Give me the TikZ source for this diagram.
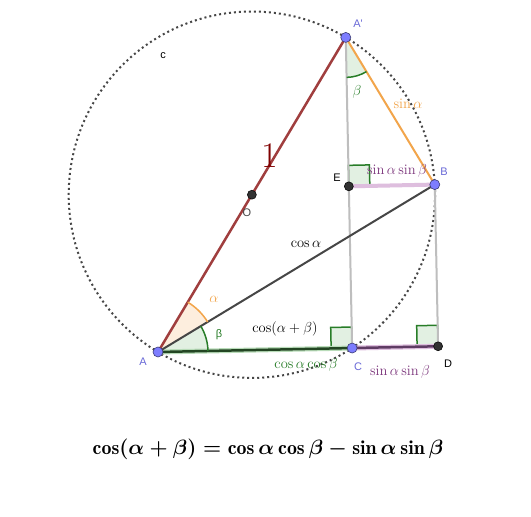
\documentclass[tikz,border=0pt]{standalone}
\usepackage{fontspec}
\usepackage{amsmath}
\newfontfamily\geo{Liberation Sans}
\usetikzlibrary{calc}
\definecolor{ptblue}{RGB}{125,125,255}
\definecolor{ptedge}{RGB}{60,60,120}
\definecolor{ptlab}{RGB}{105,105,215}
\definecolor{redline}{RGB}{160,62,62}
\definecolor{darkred}{RGB}{128,0,0}
\definecolor{orangeline}{RGB}{242,165,75}
\definecolor{orangefill}{RGB}{253,238,222}
\definecolor{grn}{RGB}{40,125,40}
\definecolor{grnfill}{RGB}{226,240,226}
\definecolor{grnhalo}{RGB}{185,220,185}
\definecolor{grndark}{RGB}{35,70,35}
\definecolor{purp}{RGB}{125,55,125}
\definecolor{purpdark}{RGB}{95,60,100}
\definecolor{lightpurp}{RGB}{222,190,222}
\definecolor{grayline}{RGB}{190,190,190}
\definecolor{darkgray}{RGB}{70,70,70}
\definecolor{ptdark}{RGB}{50,50,50}
\tikzset{
  bluept/.style={circle, fill=ptblue, draw=ptedge, line width=0.6pt, inner sep=0pt, minimum size=10pt},
  darkpt/.style={circle, fill=ptdark, draw=black, line width=0.5pt, inner sep=0pt, minimum size=9pt},
  ptlabel/.style={font=\geo\fontsize{11}{13}\selectfont, inner sep=0pt},
  mlabel/.style={font=\fontsize{14.5}{17}\selectfont, inner sep=0pt},
  rightmark/.style={fill=grnfill, draw=grn, line width=1.5pt, line join=miter},
}
\begin{document}
\begin{tikzpicture}[x=1pt,y=1pt]
\useasboundingbox (0,0) rectangle (531,517);
\fill[white] (0,0) rectangle (531,517);
\begin{scope}[shift={(158,165)}, rotate=1.17]
  \coordinate (A) at (0,0);
  \coordinate (Ap) at (58:366.4);
  \coordinate (B) at (30:323.5);
  \coordinate (C) at (194.2,0);
  \coordinate (D) at (280.2,0);
  \coordinate (E) at (194.2,161.75);
  \coordinate (O) at ($(A)!0.5!(Ap)$);
  % angle sectors
  \fill[orangefill] (A) -- (30:58) arc[start angle=30, end angle=58, radius=58] -- cycle;
  \fill[grnfill] (A) -- (0:50) arc[start angle=0, end angle=30, radius=50] -- cycle;
  \fill[grnfill] (Ap) -- ($(Ap)+(-90:40)$) arc[start angle=-90, end angle=-60, radius=40] -- cycle;
  % right angle marks
  \draw[rightmark] (C) -- ++(-21,0) -- ++(0,21) -- ++(21,0) -- cycle;
  \draw[rightmark] (D) -- ++(-21,0) -- ++(0,21) -- ++(21,0) -- cycle;
  \draw[rightmark] (E) -- ++(21,0) -- ++(0,21) -- ++(-21,0) -- cycle;
  % circle c
  \draw[darkgray, line width=2pt, dash pattern=on 2pt off 3pt] (O) circle[radius=183.2];
  % segments
  \draw[grayline, line width=2pt] (Ap) -- (C);
  \draw[grayline, line width=2pt] (B) -- (D);
  \draw[lightpurp, line width=4pt] (E) -- (B);
  \draw[lightpurp, line width=5pt] (C) -- (D);
  \draw[purpdark, line width=2.5pt] (C) -- (D);
  \draw[grnhalo, line width=5pt] (A) -- (C);
  \draw[grndark, line width=2.5pt] (A) -- (C);
  \draw[darkgray, line width=2pt] (A) -- (B);
  \draw[redline, line width=2.5pt] (A) -- (Ap);
  \draw[orangeline, line width=2pt] (Ap) -- (B);
  % angle arcs
  \draw[orangeline, line width=1.5pt] (30:58) arc[start angle=30, end angle=58, radius=58];
  \draw[grn, line width=1.5pt] (0:50) arc[start angle=0, end angle=30, radius=50];
  \draw[grn, line width=1.5pt] ($(Ap)+(-90:40)$) arc[start angle=-90, end angle=-60, radius=40];
  % points
  \node[darkpt] (pO) at (O) {};
  \node[darkpt] (pD) at (D) {};
  \node[darkpt] (pE) at (E) {};
  \node[bluept] (pA) at (A) {};
  \node[bluept] (pAp) at (Ap) {};
  \node[bluept] (pB) at (B) {};
  \node[bluept] (pC) at (C) {};
\end{scope}
% point labels
\node[ptlabel, text=ptlab] (lA) at (143,155) {A};
\node[ptlabel, text=ptlab] (lAp) at (358,493) {A'};
\node[ptlabel, text=ptlab] (lB) at (444,345) {B};
\node[ptlabel, text=ptlab] (lC) at (358,150) {C};
\node[ptlabel] (lD) at (448,153) {D};
\node[ptlabel] (lE) at (337,339) {E};
\node[ptlabel, text=darkgray] (lO) at (247,304) {O};
\node[ptlabel] (lc) at (163,461) {c};
% measure labels
\node[inner sep=0pt, text=darkred, font=\fontsize{36}{42}\selectfont] (one) at (270,361) {1};
\node[mlabel] (lcosa) at (306,273) {$\cos\alpha$};
\node[mlabel] (lcosab) at (285,188) {$\cos(\alpha+\beta)$};
\node[mlabel, text=grn] (lcc) at (306,152) {$\cos\alpha\cos\beta$};
\node[mlabel, text=purp] (lssb) at (400,145) {$\sin\alpha\sin\beta$};
\node[mlabel, text=purp] (lsst) at (397,346) {$\sin\alpha\sin\beta$};
\node[mlabel, text=orangeline] (lsina) at (408,413) {$\sin\alpha$};
\node[mlabel, text=grn] (lbAp) at (357,425) {$\beta$};
\node[mlabel, text=orangeline] (laA) at (214,218) {$\alpha$};
\node[inner sep=0pt, text=grn, font=\geo\fontsize{11}{13}\selectfont] (lbA) at (219,182) {β};
% formula
\node[inner sep=0pt, font=\fontsize{19.9}{24}\selectfont\boldmath] (formula) at (268,68) {$\cos(\alpha+\beta)=\cos\alpha\cos\beta-\sin\alpha\sin\beta$};
\end{tikzpicture}
\end{document}
